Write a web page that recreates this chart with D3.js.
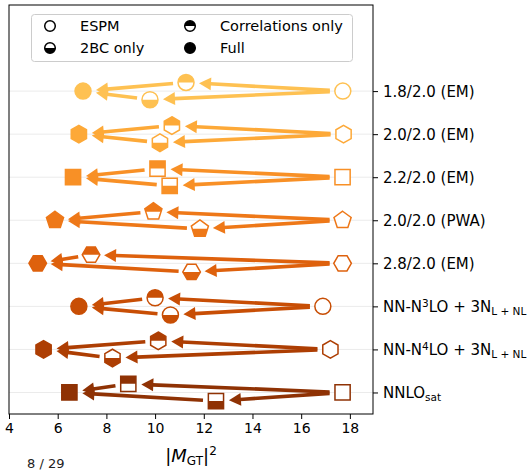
<!DOCTYPE html>
<html>
<head>
<meta charset="utf-8">
<script src="https://cdn.jsdelivr.net/npm/d3@7"></script>
<style>
  body { margin: 0; background: #fff; }
  text { font-family: "DejaVu Sans", sans-serif; }
</style>
</head>
<body>
<script>
// interaction labels, top row first
var labels = ["1.8/2.0 (EM)", "2.0/2.0 (EM)", "2.2/2.0 (EM)", "2.0/2.0 (PWA)",
  "2.8/2.0 (EM)", "NN-N3LO + 3N", "NN-N4LO + 3N", "NNLOsat"];
var shapes = ["circle", "hexagon", "square", "pentagon", "hexagon2", "circle", "hexagon", "square"];

// |M_GT|^2 for each stage
var espm = [17.71, 17.74, 17.7, 17.7, 17.7, 16.89, 17.2, 17.7];
var corrOnly = [11.27, 10.69, 10.1, 9.93, 7.37, 10.0, 10.13, 8.9];
var twoBCOnly = [9.79, 10.2, 10.6, 11.84, 11.5, 10.63, 8.25, 12.5];
var full = [7.04, 6.87, 6.63, 5.89, 5.18, 6.87, 5.42, 6.48];

var xTicks = [4, 6, 8, 10, 12, 14, 16, 18];
var legendItems = [
  { name: "ESPM", fill: "open" },
  { name: "2BC only", fill: "bottom" },
  { name: "Correlations only", fill: "top" },
  { name: "Full", fill: "full" }
];

var W = 531, H = 470;
var plot = { left: 9, right: 373, top: 5, bottom: 414 };

var svg = d3.select("body").append("svg")
  .attr("width", W)
  .attr("height", H);

var defs = svg.append("defs");
defs.append("clipPath").attr("id", "clipTop")
  .append("rect").attr("x", -20).attr("y", -20).attr("width", 40).attr("height", 20);
defs.append("clipPath").attr("id", "clipBottom")
  .append("rect").attr("x", -20).attr("y", 0).attr("width", 40).attr("height", 20);

var x = d3.scaleLinear().domain([4, 18.95]).range([plot.left, plot.right]);
var y = d3.scaleLinear().domain([-2, 7.5]).range([plot.top, plot.bottom]);
var offset = 0.2; // vertical shift of the intermediate markers

function rowColor(i) {
  return d3.interpolateYlOrBr(0.38 + i * (0.52 / 7));
}

function polygon(n, r, rot) {
  var pts = [];
  for (var k = 0; k < n; k++) {
    var a = rot + k * 2 * Math.PI / n;
    pts.push([r * Math.sin(a), -r * Math.cos(a)]);
  }
  return "M" + pts.map(function (p) { return p[0].toFixed(2) + "," + p[1].toFixed(2); }).join("L") + "Z";
}

function shapePath(shape, s) {
  s = s || 1;
  if (shape == "circle") {
    var r = 8 * s;
    return "M" + (-r) + ",0A" + r + "," + r + " 0 1,1 " + r + ",0A" + r + "," + r + " 0 1,1 " + (-r) + ",0Z";
  }
  if (shape == "square") {
    var h = 7.6 * s;
    return "M" + (-h) + "," + (-h) + "H" + h + "V" + h + "H" + (-h) + "Z";
  }
  if (shape == "pentagon") return polygon(5, 9 * s, 0);
  if (shape == "hexagon") return polygon(6, 8.8 * s, 0);
  if (shape == "hexagon2") return polygon(6, 8.8 * s, Math.PI / 6);
}

function drawMarker(parent, px, py, shape, color, fill, s) {
  var g = parent.append("g").attr("transform", "translate(" + px + "," + py + ")");
  var d = shapePath(shape, s);
  g.append("path").attr("d", d)
    .attr("fill", fill == "full" ? color : "#fff");
  if (fill == "top" || fill == "bottom") {
    g.append("path").attr("d", d)
      .attr("fill", color)
      .attr("clip-path", fill == "top" ? "url(#clipTop)" : "url(#clipBottom)");
  }
  g.append("path").attr("d", d)
    .attr("fill", "none")
    .attr("stroke", color)
    .attr("stroke-width", 1.5);
}

function drawArrow(parent, x1, y1, x2, y2, color) {
  var dx = x2 - x1, dy = y2 - y1;
  var len = Math.sqrt(dx * dx + dy * dy);
  var ux = dx / len, uy = dy / len;
  var shrink = 13, headLen = 12, headW = 6.5;
  var sx = x1 + ux * shrink, sy = y1 + uy * shrink;
  var tx = x2 - ux * shrink, ty = y2 - uy * shrink;
  var bx = tx - ux * headLen, by = ty - uy * headLen;
  parent.append("line")
    .attr("x1", sx).attr("y1", sy)
    .attr("x2", bx + ux * 1).attr("y2", by + uy * 1)
    .attr("stroke", color)
    .attr("stroke-width", 3.6);
  parent.append("path")
    .attr("d", "M" + tx + "," + ty +
      "L" + (bx - uy * headW) + "," + (by + ux * headW) +
      "L" + (bx + uy * headW) + "," + (by - ux * headW) + "Z")
    .attr("fill", color);
}

// grid lines
svg.append("g").selectAll("line")
  .data(d3.range(labels.length))
  .enter().append("line")
  .attr("x1", plot.left).attr("x2", plot.right)
  .attr("y1", function (d) { return y(d); })
  .attr("y2", function (d) { return y(d); })
  .attr("stroke", "#ebebeb")
  .attr("stroke-width", 1);

var arrows = svg.append("g");
var markers = svg.append("g");

labels.forEach(function (lab, i) {
  var c = rowColor(i);
  var yUp = y(i - offset), yDn = y(i + offset), y0 = y(i);
  drawArrow(arrows, x(espm[i]), y0, x(corrOnly[i]), yUp, c);
  drawArrow(arrows, x(corrOnly[i]), yUp, x(full[i]), y0, c);
  drawArrow(arrows, x(espm[i]), y0, x(twoBCOnly[i]), yDn, c);
  drawArrow(arrows, x(twoBCOnly[i]), yDn, x(full[i]), y0, c);

  drawMarker(markers, x(espm[i]), y0, shapes[i], c, "open");
  drawMarker(markers, x(corrOnly[i]), yUp, shapes[i], c, "top");
  drawMarker(markers, x(twoBCOnly[i]), yDn, shapes[i], c, "bottom");
  drawMarker(markers, x(full[i]), y0, shapes[i], c, "full");
});

// frame
svg.append("rect")
  .attr("x", plot.left).attr("y", plot.top)
  .attr("width", plot.right - plot.left)
  .attr("height", plot.bottom - plot.top)
  .attr("fill", "none")
  .attr("stroke", "#000")
  .attr("stroke-width", 1);

// x axis
var xAxis = svg.append("g")
  .attr("transform", "translate(0," + plot.bottom + ")")
  .call(d3.axisBottom(x).tickValues(xTicks).tickSize(5).tickPadding(4).tickFormat(d3.format("d")));
xAxis.select(".domain").remove();
xAxis.selectAll("text").attr("font-size", 14).attr("fill", "#000")
  .attr("font-family", "DejaVu Sans");

// y axis on the right
var yAxis = svg.append("g")
  .attr("transform", "translate(" + plot.right + ",0)")
  .call(d3.axisRight(y).tickValues(d3.range(labels.length)).tickSize(5).tickFormat(""));
yAxis.select(".domain").remove();

yAxis.selectAll(".tick").each(function (d) {
  var t = d3.select(this).append("text")
    .attr("x", 10).attr("dy", "0.35em")
    .attr("fill", "#000")
    .attr("font-size", 15)
    .attr("font-family", "DejaVu Sans")
    .attr("text-anchor", "start");
  var lab = labels[d];
  if (lab.indexOf("NN-N") == 0) {
    t.append("tspan").text("NN-N");
    t.append("tspan").attr("font-size", 10.5).attr("baseline-shift", "5").text(lab.charAt(4));
    t.append("tspan").text("LO + 3N");
    t.append("tspan").attr("font-size", 10.5).attr("baseline-shift", "-3").text("L + NL");
  } else if (lab == "NNLOsat") {
    t.append("tspan").text("NNLO");
    t.append("tspan").attr("font-size", 10.5).attr("baseline-shift", "-3").text("sat");
  } else {
    t.text(lab);
  }
});

// legend
var legend = svg.append("g");
legend.append("rect")
  .attr("x", 31.5).attr("y", 14.5)
  .attr("width", 321).attr("height", 47)
  .attr("rx", 3)
  .attr("fill", "#fff").attr("fill-opacity", 0.8)
  .attr("stroke", "#cccccc");
legendItems.forEach(function (item, k) {
  var col = Math.floor(k / 2), row = k % 2;
  var lx = col == 0 ? 50 : 190, ly = row == 0 ? 26 : 48;
  drawMarker(legend, lx, ly, "circle", "#000", item.fill, 0.66);
  legend.append("text")
    .attr("x", lx + 30).attr("y", ly).attr("dy", "0.36em")
    .attr("font-size", 14.5)
    .attr("fill", "#000")
    .text(item.name);
});

// x label
var xl = svg.append("text")
  .attr("x", (plot.left + plot.right) / 2).attr("y", 462)
  .attr("text-anchor", "middle")
  .attr("font-family", "Liberation Serif, DejaVu Serif, serif")
  .attr("font-size", 18)
  .attr("fill", "#000");
xl.append("tspan").text("|");
xl.append("tspan").attr("font-style", "italic").text("M");
xl.append("tspan").attr("font-size", 12).attr("baseline-shift", "-3").text("GT");
xl.append("tspan").text("|");
xl.append("tspan").attr("font-size", 12).attr("baseline-shift", "7").text("2");

// page number
svg.append("text")
  .attr("x", 27).attr("y", 468)
  .attr("font-size", 13)
  .attr("fill", "#222")
  .text("8 / 29");
</script>
</body>
</html>
